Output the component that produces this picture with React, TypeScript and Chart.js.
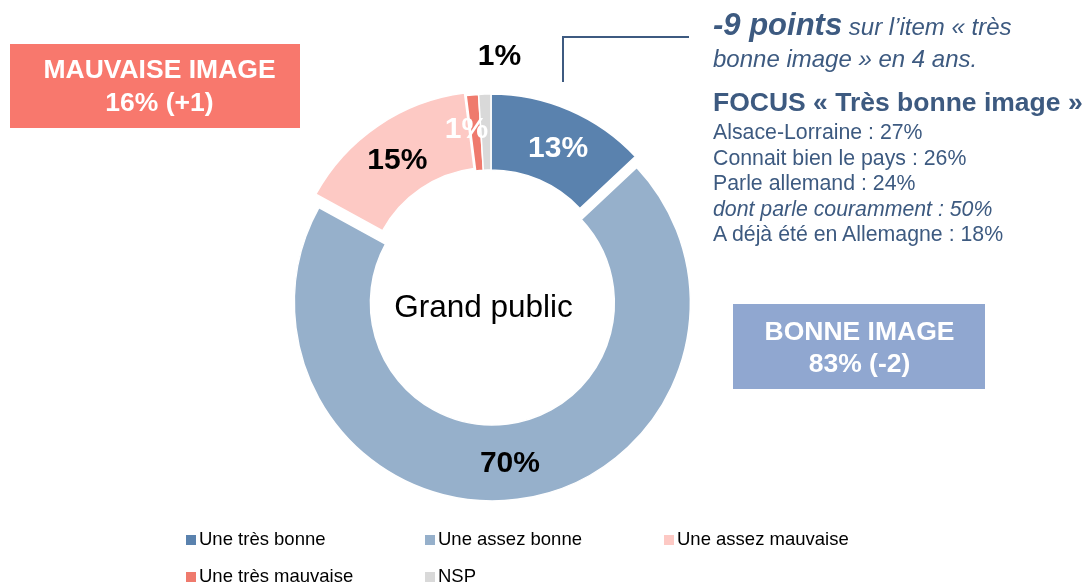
import React, { useEffect, useRef } from "react";
import { Chart, registerables } from "chart.js";

Chart.register(...registerables);

// ---------- data ----------
const categories = ["Une très bonne", "Une assez bonne", "Une assez mauvaise", "Une très mauvaise", "NSP"];
const values = [13, 70, 15, 1, 1];
const sliceColors = ["#5a82ae", "#96b0cb", "#fdc9c4", "#ef7a6d", "#d9d9d9"];

const focusLines = [
  { text: "Alsace-Lorraine : 27%", italic: false },
  { text: "Connait bien le pays : 26%", italic: false },
  { text: "Parle allemand : 24%", italic: false },
  { text: "dont parle couramment : 50%", italic: true },
  { text: "A déjà été en Allemagne : 18%", italic: false },
];

// ---------- styles ----------
const FONT = '"Liberation Sans", Arial, Helvetica, sans-serif';
const BLUE_TEXT = "#3d5a80";
const EXPLODE = [0, 11, 3, 0, 0];
const LABEL_STYLE = [
  { color: "#ffffff", dx: 3.5, dy: 4, outside: false, dist: 0 },
  { color: "#000000", dx: -2.5, dy: 2, outside: false, dist: 0 },
  { color: "#000000", dx: -2, dy: 4, outside: false, dist: 0 },
  { color: "#ffffff", dx: -9.5, dy: -3, outside: false, dist: 0 },
  { color: "#000000", dx: 16, dy: 3, outside: true, dist: 40 },
];

const explodePlugin = {
  id: "explodeSlices",
  afterDatasetsUpdate(chart: any) {
    const meta = chart.getDatasetMeta(0);
    meta.data.forEach((el: any, i: number) => {
      const e = EXPLODE[i] || 0;
      const mid = (el.startAngle + el.endAngle) / 2;
      el.x += Math.cos(mid) * e;
      el.y += Math.sin(mid) * e;
    });
  },
};

const labelPlugin = {
  id: "sliceLabels",
  afterDatasetsDraw(chart: any) {
    const ctx = chart.ctx;
    const meta = chart.getDatasetMeta(0);
    ctx.save();
    ctx.font = `bold 30px ${FONT}`;
    ctx.textAlign = "center";
    ctx.textBaseline = "middle";
    meta.data.forEach((el: any, i: number) => {
      const st = LABEL_STYLE[i];
      let x: number, y: number;
      if (st.outside) {
        const mid = (el.startAngle + el.endAngle) / 2;
        const r = el.outerRadius + st.dist;
        x = el.x + Math.cos(mid) * r;
        y = el.y + Math.sin(mid) * r;
      } else {
        const p = el.getCenterPoint();
        x = p.x;
        y = p.y;
      }
      ctx.fillStyle = st.color;
      ctx.fillText(`${values[i]}%`, x + st.dx, y + st.dy);
    });
    ctx.restore();
  },
};

// top of a single-line block (line-height 1) so that its baseline lands at `baseline`
const topFor = (baseline: number, fs: number) => baseline - 0.8465 * fs;

const abs = (extra: React.CSSProperties): React.CSSProperties => ({
  position: "absolute",
  whiteSpace: "nowrap",
  lineHeight: 1,
  margin: 0,
  ...extra,
});

export default function App() {
  const canvasRef = useRef<HTMLCanvasElement | null>(null);

  useEffect(() => {
    document.body.style.margin = "0";
    const canvas = canvasRef.current;
    if (!canvas) return;
    const chart = new Chart(canvas, {
      type: "doughnut",
      data: {
        labels: categories,
        datasets: [
          {
            data: values,
            backgroundColor: sliceColors,
            borderColor: "#ffffff",
            borderWidth: 1.5,
          },
        ],
      },
      options: {
        responsive: false,
        animation: false,
        radius: 198,
        cutout: "61.6%",
        layout: { padding: { left: 0, right: 102, top: 0, bottom: 0 } },
        plugins: {
          legend: { display: false },
          tooltip: { enabled: false },
        },
      } as any,
      plugins: [explodePlugin, labelPlugin],
    });
    return () => chart.destroy();
  }, []);

  const legendCols = [186, 425, 664];
  const legendRows = [545.7, 583];
  const legendFs = 18.5;
  const boxFs = 26.5;
  const detailFs = 21.3;

  return (
    <div style={{ position: "relative", width: 1084, height: 584, overflow: "hidden", fontFamily: FONT, background: "#fff" }}>
      <canvas ref={canvasRef} width={1084} height={584} style={{ position: "absolute", left: 0, top: 0, width: 1084, height: 584 }} />

      {/* left box */}
      <div style={{ position: "absolute", left: 10, top: 44, width: 290, height: 84, background: "#f8786d" }} />
      <div style={abs({ left: 10, width: 299, textAlign: "center", top: topFor(78.5, boxFs), fontSize: boxFs, fontWeight: "bold", color: "#fff" })}>MAUVAISE IMAGE</div>
      <div style={abs({ left: 10, width: 299, textAlign: "center", top: topFor(111, boxFs), fontSize: boxFs, fontWeight: "bold", color: "#fff" })}>16% (+1)</div>

      {/* right box */}
      <div style={{ position: "absolute", left: 733, top: 304, width: 252, height: 85, background: "#90a7d0" }} />
      <div style={abs({ left: 733, width: 253, textAlign: "center", top: topFor(340, boxFs), fontSize: boxFs, fontWeight: "bold", color: "#fff" })}>BONNE IMAGE</div>
      <div style={abs({ left: 733, width: 253, textAlign: "center", top: topFor(372, boxFs), fontSize: boxFs, fontWeight: "bold", color: "#fff" })}>83% (-2)</div>

      {/* centre text */}
      <div style={abs({ left: 333.5, width: 300, textAlign: "center", top: topFor(318, 31.5), fontSize: 31.5, color: "#000" })}>Grand public</div>

      {/* connector */}
      <div style={{ position: "absolute", left: 562, top: 35.5, width: 2, height: 46, background: BLUE_TEXT }} />
      <div style={{ position: "absolute", left: 562, top: 35.5, width: 127, height: 2, background: BLUE_TEXT }} />

      {/* right annotation */}
      <div style={abs({ left: 713, top: topFor(35, 31), fontSize: 24, fontStyle: "italic", color: BLUE_TEXT })}>
        <span style={{ fontSize: 31, fontWeight: "bold", lineHeight: 1 }}>-9 points</span> sur l’item « très
      </div>
      <div style={abs({ left: 713, top: topFor(67, 24), fontSize: 24, fontStyle: "italic", color: BLUE_TEXT })}>bonne image » en 4 ans.</div>
      <div style={abs({ left: 713, top: topFor(111, 26.5), fontSize: 26.5, fontWeight: "bold", color: BLUE_TEXT })}>FOCUS « Très bonne image »</div>
      {focusLines.map((l, i) => (
        <div
          key={i}
          style={abs({ left: 713, top: topFor(140.5 + i * 25.5, detailFs), fontSize: detailFs, fontStyle: l.italic ? "italic" : "normal", color: BLUE_TEXT })}
        >
          {l.text}
        </div>
      ))}

      {/* legend */}
      {categories.map((c, i) => {
        const col = legendCols[i % 3];
        const base = legendRows[Math.floor(i / 3)];
        return (
          <React.Fragment key={c}>
            <div style={{ position: "absolute", left: col, top: base - 11, width: 10, height: 10, background: sliceColors[i] }} />
            <div style={abs({ left: col + 13, top: topFor(base, legendFs), fontSize: legendFs, color: "#000" })}>{c}</div>
          </React.Fragment>
        );
      })}
    </div>
  );
}
